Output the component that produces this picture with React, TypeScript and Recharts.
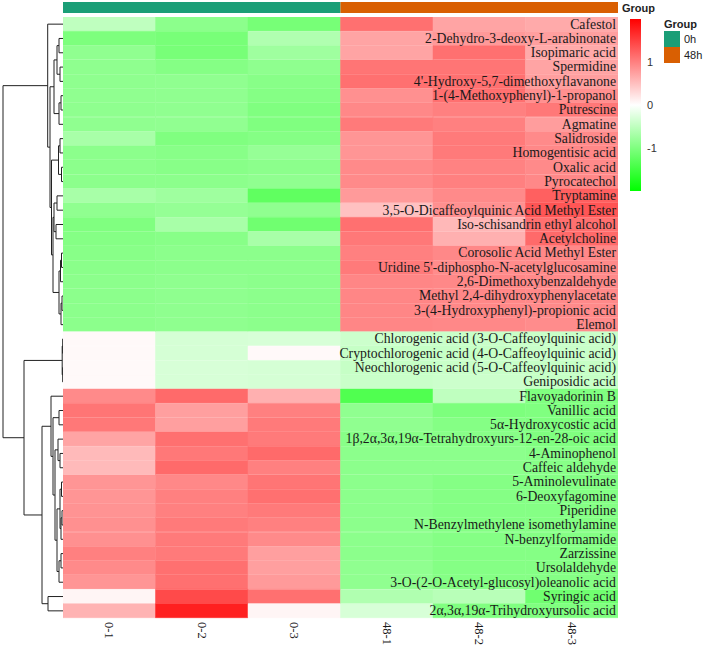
import React from "react"
import { BarChart, Bar, Cell, XAxis, YAxis, LabelList, ComposedChart, Line } from "recharts"

const samples = ["0-1", "0-2", "0-3", "48-1", "48-2", "48-3"]

const metabolites = [
  "Cafestol",
  "2-Dehydro-3-deoxy-L-arabinonate",
  "Isopimaric acid",
  "Spermidine",
  "4'-Hydroxy-5,7-dimethoxyflavanone",
  "1-(4-Methoxyphenyl)-1-propanol",
  "Putrescine",
  "Agmatine",
  "Salidroside",
  "Homogentisic acid",
  "Oxalic acid",
  "Pyrocatechol",
  "Tryptamine",
  "3,5-O-Dicaffeoylquinic Acid Methyl Ester",
  "Iso-schisandrin ethyl alcohol",
  "Acetylcholine",
  "Corosolic Acid Methyl Ester",
  "Uridine 5'-diphospho-N-acetylglucosamine",
  "2,6-Dimethoxybenzaldehyde",
  "Methyl 2,4-dihydroxyphenylacetate",
  "3-(4-Hydroxyphenyl)-propionic acid",
  "Elemol",
  "Chlorogenic acid (3-O-Caffeoylquinic acid)",
  "Cryptochlorogenic acid (4-O-Caffeoylquinic acid)",
  "Neochlorogenic acid (5-O-Caffeoylquinic acid)",
  "Geniposidic acid",
  "Flavoyadorinin B",
  "Vanillic acid",
  "5α-Hydroxycostic acid",
  "1β,2α,3α,19α-Tetrahydroxyurs-12-en-28-oic acid",
  "4-Aminophenol",
  "Caffeic aldehyde",
  "5-Aminolevulinate",
  "6-Deoxyfagomine",
  "Piperidine",
  "N-Benzylmethylene isomethylamine",
  "N-benzylformamide",
  "Zarzissine",
  "Ursolaldehyde",
  "3-O-(2-O-Acetyl-glucosyl)oleanolic acid",
  "Syringic acid",
  "2α,3α,19α-Trihydroxyursolic acid",
]

// scaled abundance per sample, same order as metabolites
const s01 = [
  -0.5, -1.02, -0.87, -0.88, -0.88, -0.87, -0.88, -0.87, -0.68, -0.9, -0.9, -0.9, -0.68, -0.87, -1.0, -0.96, -0.93, -0.92, -0.9, -0.9, -0.9, -0.9,
  0.05, 0.05, 0.05, 0.05,
  0.92, 1.08, 1.06, 0.71, 0.54, 0.54, 0.83, 0.83, 0.85, 0.87, 0.87, 1.0, 0.92, 0.83, 0.08, 0.6,
]
const s02 = [
  -0.9, -1.06, -1.06, -0.96, -0.87, -0.87, -0.87, -0.86, -1.0, -0.93, -0.93, -0.9, -0.75, -0.83, -0.68, -0.93, -0.9, -0.9, -0.88, -0.88, -0.88, -0.88,
  -0.33, -0.33, -0.31, -0.31,
  1.17, 0.75, 0.75, 1.12, 1.06, 1.17, 0.93, 1.0, 1.0, 1.04, 1.04, 1.04, 1.12, 1.12, 1.42, 1.75,
]
const s03 = [
  -1.07, -0.62, -0.75, -0.88, -0.93, -0.96, -1.0, -1.0, -0.96, -0.82, -0.9, -0.87, -1.25, -0.87, -1.12, -0.68, -0.9, -0.9, -0.9, -0.9, -0.9, -0.9,
  -0.31, 0.05, -0.33, -0.33,
  0.62, 1.0, 1.04, 1.04, 1.17, 1.0, 1.08, 1.12, 1.04, 1.0, 0.92, 0.75, 0.75, 0.79, 1.12, 0.08,
]
const s481 = [
  1.12, 0.71, 0.71, 1.08, 1.12, 0.87, 0.93, 1.04, 0.83, 0.83, 0.92, 0.92, 0.79, 0.49, 1.12, 1.06, 1.0, 1.04, 0.95, 0.95, 0.95, 0.95,
  -0.4, -0.45, -0.45, -0.42,
  -1.37, -0.87, -0.87, -0.93, -0.9, -0.9, -0.9, -0.9, -0.9, -0.9, -0.9, -0.9, -0.87, -0.87, -0.62, -0.31,
]
const s482 = [
  0.71, 0.8, 1.12, 1.08, 1.12, 1.12, 1.0, 1.0, 1.04, 1.04, 0.98, 1.0, 0.92, 0.87, 0.56, 0.62, 0.93, 0.9, 0.93, 0.93, 0.93, 0.93,
  -0.42, -0.45, -0.42, -0.4,
  -0.5, -1.02, -0.96, -0.93, -0.9, -0.9, -0.96, -0.96, -0.96, -0.96, -0.96, -0.96, -0.96, -0.96, -0.56, -1.0,
]
const s483 = [
  0.67, 0.75, 0.67, 0.71, 0.75, 0.87, 1.06, 0.77, 0.92, 0.93, 0.92, 0.93, 1.25, 1.33, 1.12, 1.17, 0.93, 0.92, 0.92, 0.92, 0.92, 0.9,
  -0.42, -0.42, -0.45, -0.45,
  -1.0, -1.0, -1.0, -1.0, -0.93, -0.93, -0.96, -0.96, -0.96, -0.96, -0.96, -0.96, -0.96, -0.96, -1.12, -1.0,
]
const sampleValues = [s01, s02, s03, s481, s482, s483]

const groups = ["0h", "48h"]
const groupColors = ["#1B9E77", "#D95F02"]
const legendTicks = [-1, 0, 1]

// row clustering: leaf = row index, node = [left, right, merge height]
type Node = number | [Node, Node, number]
const clusterAY: Node = [[[1, 2, 4], [3, 4, 3], 6], [[5, 6, 2], 7, 4], 9]
const clusterAZ: Node = [
  [[8, 9, 3], [10, 11, 1.5], 4.5],
  [[[12, 13, 6], [14, 15, 7], 9], [[[16, 17, 1.5], 18, 2.5], [[19, 20, 1], 21, 2], 4], 10],
  11.5,
]
const clusterA: Node = [0, [clusterAY, clusterAZ, 13], 15.3]
const clusterB1: Node = [[22, 23, 0.3], [24, 25, 0.3], 0.8]
const clusterB2a: Node = [
  26,
  [[27, 28, 4], [[29, [30, 31, 3], 5], [[[32, 33, 1.5], [[34, 35, 1], 36, 2], 3], [[37, 38, 2], 39, 4], 6], 8], 10],
  12,
]
const clusterB2: Node = [clusterB2a, [40, 41, 15], 21]
const rowTree: Node = [clusterA, [clusterB1, clusterB2, 39], 60]

function heat(v: number) {
  const t = Math.min(1, Math.abs(v) / 2)
  const c = Math.round(255 * (1 - t))
  return v >= 0 ? `rgb(255,${c},${c})` : `rgb(${c},255,${c})`
}

function walk(n: Node, out: { h: number; y: number | null }[]): { h: number; y: number } {
  if (typeof n === "number") return { h: 0, y: n + 0.5 }
  const l = walk(n[0], out)
  const r = walk(n[1], out)
  const h = n[2]
  out.push({ h: l.h, y: l.y }, { h, y: l.y }, { h, y: r.y }, { h: r.h, y: r.y }, { h, y: null })
  return { h, y: (l.y + r.y) / 2 }
}

const dendroPath: { h: number; y: number | null }[] = []
walk(rowTree, dendroPath)

const rows = metabolites.map((name) => ({ name, c0: 1, c1: 1, c2: 1, c3: 1, c4: 1, c5: 1 }))

const serif = "'Liberation Serif', 'Times New Roman', serif"
const sans = "'Liberation Sans', Arial, sans-serif"

const ColTick = (props: any) => {
  const { x, y, payload } = props
  return (
    <text
      transform={`translate(${x},${y + 4}) rotate(90)`}
      textAnchor="start"
      dominantBaseline="central"
      fontSize={12.5}
      fontFamily={serif}
      fill="#1a1a1a"
    >
      {samples[Math.floor(payload.value)]}
    </text>
  )
}

const RowLabel = (props: any) => {
  const vb = props.viewBox || {}
  const x = (props.x ?? vb.x) + (props.width ?? vb.width)
  const y = (props.y ?? vb.y) + (props.height ?? vb.height) / 2
  return (
    <text x={x - 2} y={y} textAnchor="end" dominantBaseline="central" fontSize={13.75} fontFamily={serif} fill="#1a1a1a">
      {props.value}
    </text>
  )
}

export default function App() {
  return (
    <div style={{ position: "absolute", left: 0, top: 0, width: 706, height: 649, background: "#fff" }}>
      {/* group annotation bar */}
      <div style={{ position: "absolute", left: 63, top: 2 }}>
        <BarChart
          width={555}
          height={11}
          layout="vertical"
          data={[{ g: "group", a: 3, b: 3 }]}
          margin={{ top: 0, right: 0, bottom: 0, left: 0 }}
          barCategoryGap={0}
        >
          <XAxis type="number" domain={[0, 6]} hide />
          <YAxis type="category" dataKey="g" hide />
          <Bar dataKey="a" stackId="g" fill={groupColors[0]} isAnimationActive={false} />
          <Bar dataKey="b" stackId="g" fill={groupColors[1]} isAnimationActive={false} />
        </BarChart>
      </div>

      {/* row dendrogram */}
      <div style={{ position: "absolute", left: 2, top: 17 }}>
        <ComposedChart width={61} height={601} data={dendroPath} margin={{ top: 0, right: 0, bottom: 0, left: 0 }}>
          <XAxis type="number" dataKey="h" domain={[0, 61]} reversed hide />
          <YAxis type="number" domain={[0, 42]} reversed hide />
          <Line
            dataKey="y"
            type="linear"
            stroke="#222"
            strokeWidth={1}
            dot={false}
            connectNulls={false}
            isAnimationActive={false}
          />
        </ComposedChart>
      </div>

      {/* heatmap */}
      <div style={{ position: "absolute", left: 63, top: 17 }}>
        <BarChart
          width={555}
          height={632}
          layout="vertical"
          data={rows}
          margin={{ top: 0, right: 0, bottom: 0, left: 0 }}
          barCategoryGap={0}
        >
          <XAxis
            type="number"
            domain={[0, 6]}
            ticks={[0.5, 1.5, 2.5, 3.5, 4.5, 5.5]}
            interval={0}
            height={31}
            tickLine={false}
            axisLine={false}
            tickSize={0}
            tickMargin={0}
            tick={<ColTick />}
          />
          <YAxis type="category" dataKey="name" hide />
          {sampleValues.map((vals, k) => (
            <Bar key={k} dataKey={`c${k}`} stackId="h" isAnimationActive={false}>
              {vals.map((v, i) => (
                <Cell key={i} fill={heat(v)} stroke={heat(v)} strokeWidth={0.5} />
              ))}
              {k === 5 && <LabelList dataKey="name" content={<RowLabel />} />}
            </Bar>
          ))}
        </BarChart>
      </div>

      {/* colour key */}
      <div style={{ position: "absolute", left: 630, top: 19 }}>
        <BarChart
          width={36}
          height={172}
          data={[{ k: "scale", r: [-2, 2] }]}
          margin={{ top: 0, right: 0, bottom: 0, left: 0 }}
          barCategoryGap={0}
        >
          <defs>
            <linearGradient id="heatGrad" x1="0" y1="0" x2="0" y2="1">
              <stop offset="0%" stopColor="#ff0000" />
              <stop offset="50%" stopColor="#ffffff" />
              <stop offset="100%" stopColor="#00ff00" />
            </linearGradient>
          </defs>
          <XAxis dataKey="k" hide />
          <YAxis
            type="number"
            domain={[-2, 2]}
            orientation="right"
            ticks={legendTicks}
            width={25}
            tickLine={false}
            axisLine={false}
            tickSize={0}
            tickMargin={6}
            tick={{ fontSize: 11, fill: "#333", fontFamily: sans }}
          />
          <Bar dataKey="r" fill="url(#heatGrad)" isAnimationActive={false} />
        </BarChart>
      </div>

      {/* annotation titles and group legend */}
      <svg style={{ position: "absolute", left: 0, top: 0 }} width={706} height={70}>
        <text x={622} y={8} dominantBaseline="central" fontSize={11} fontWeight="bold" fontFamily={sans} fill="#222">
          Group
        </text>
        <text x={664} y={24} dominantBaseline="central" fontSize={11} fontWeight="bold" fontFamily={sans} fill="#222">
          Group
        </text>
        {groups.map((g, i) => (
          <g key={g}>
            <rect x={664} y={31 + i * 16} width={16} height={16} fill={groupColors[i]} />
            <text x={684} y={39 + i * 16} dominantBaseline="central" fontSize={11} fontFamily={sans} fill="#222">
              {g}
            </text>
          </g>
        ))}
      </svg>
    </div>
  )
}
